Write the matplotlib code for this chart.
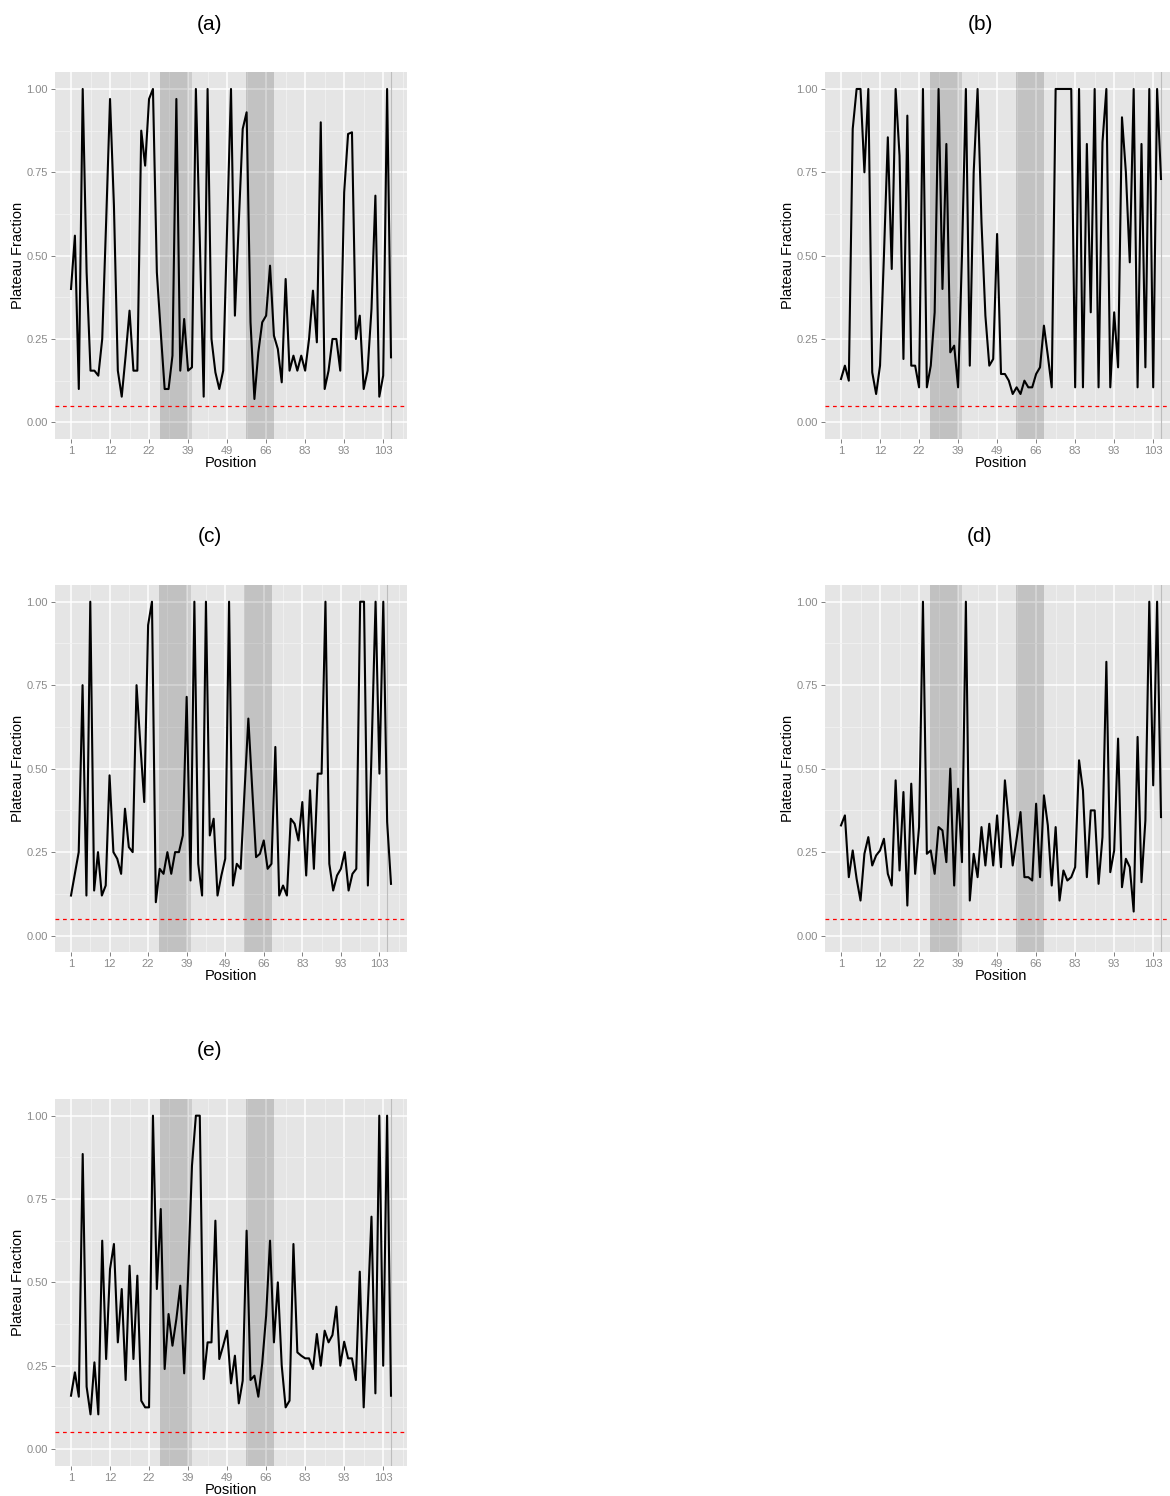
import matplotlib
matplotlib.use("Agg")
import matplotlib.pyplot as plt
import numpy as np

plt.rcParams['font.family'] = ['Liberation Sans', 'DejaVu Sans']

# tick labels on the position axis (every 10th residue)
pos_labels = ["1", "12", "22", "39", "49", "66", "83", "93", "103"]

frac_a = [0.40, 0.56, 0.10, 1.00, 0.45, 0.155, 0.155, 0.14, 0.25, 0.60,
          0.97, 0.65, 0.155, 0.077, 0.20, 0.335, 0.155, 0.155, 0.875, 0.77,
          0.97, 1.00, 0.45, 0.27, 0.10, 0.10, 0.20, 0.97, 0.155, 0.31,
          0.155, 0.165, 1.00, 0.55, 0.077, 1.00, 0.25, 0.15, 0.10, 0.155,
          0.58, 1.00, 0.32, 0.60, 0.88, 0.93, 0.30, 0.07, 0.21, 0.30,
          0.32, 0.47, 0.26, 0.22, 0.12, 0.43, 0.155, 0.20, 0.155, 0.20,
          0.155, 0.25, 0.395, 0.24, 0.90, 0.10, 0.155, 0.25, 0.25, 0.155,
          0.69, 0.865, 0.87, 0.25, 0.32, 0.10, 0.155, 0.34, 0.68, 0.077,
          0.14, 1.00, 0.195]

frac_b = [0.13, 0.17, 0.125, 0.88, 1.00, 1.00, 0.75, 1.00, 0.15, 0.085,
          0.17, 0.50, 0.855, 0.46, 1.00, 0.80, 0.19, 0.92, 0.17, 0.17,
          0.105, 1.00, 0.105, 0.17, 0.33, 1.00, 0.40, 0.835, 0.21, 0.23,
          0.105, 0.50, 1.00, 0.17, 0.75, 1.00, 0.60, 0.32, 0.17, 0.19,
          0.565, 0.145, 0.145, 0.125, 0.085, 0.105, 0.085, 0.125, 0.105, 0.105,
          0.145, 0.165, 0.29, 0.20, 0.105, 1.00, 1.00, 1.00, 1.00, 1.00,
          0.105, 1.00, 0.105, 0.835, 0.33, 1.00, 0.105, 0.84, 1.00, 0.105,
          0.33, 0.165, 0.915, 0.75, 0.48, 1.00, 0.105, 0.835, 0.165, 1.00,
          0.105, 1.00, 0.73]

frac_c = [0.12, 0.185, 0.25, 0.75, 0.12, 1.00, 0.135, 0.25, 0.12, 0.15,
          0.48, 0.25, 0.23, 0.185, 0.38, 0.265, 0.25, 0.75, 0.57, 0.40,
          0.93, 1.00, 0.10, 0.20, 0.185, 0.25, 0.185, 0.25, 0.25, 0.30,
          0.715, 0.165, 1.00, 0.215, 0.12, 1.00, 0.30, 0.35, 0.12, 0.18,
          0.23, 1.00, 0.15, 0.215, 0.20, 0.43, 0.65, 0.44, 0.235, 0.245,
          0.285, 0.20, 0.215, 0.565, 0.12, 0.15, 0.12, 0.35, 0.335, 0.285,
          0.40, 0.18, 0.435, 0.20, 0.485, 0.485, 1.00, 0.215, 0.135, 0.18,
          0.20, 0.25, 0.135, 0.185, 0.20, 1.00, 1.00, 0.15, 0.57, 1.00,
          0.485, 1.00, 0.34, 0.155]

frac_d = [0.33, 0.36, 0.175, 0.255, 0.17, 0.105, 0.245, 0.295, 0.21, 0.24,
          0.255, 0.29, 0.185, 0.15, 0.465, 0.195, 0.43, 0.09, 0.455, 0.185,
          0.325, 1.00, 0.245, 0.255, 0.185, 0.325, 0.315, 0.22, 0.50, 0.15,
          0.44, 0.22, 1.00, 0.105, 0.245, 0.175, 0.325, 0.21, 0.335, 0.21,
          0.36, 0.205, 0.465, 0.34, 0.21, 0.29, 0.37, 0.175, 0.175, 0.165,
          0.395, 0.175, 0.42, 0.33, 0.15, 0.325, 0.105, 0.195, 0.165, 0.175,
          0.205, 0.525, 0.435, 0.175, 0.375, 0.375, 0.155, 0.295, 0.82, 0.19,
          0.255, 0.59, 0.145, 0.23, 0.205, 0.072, 0.595, 0.16, 0.345, 1.00,
          0.45, 1.00, 0.355]

frac_e = [0.16, 0.23, 0.157, 0.885, 0.187, 0.104, 0.26, 0.104, 0.625, 0.27,
          0.54, 0.615, 0.32, 0.48, 0.207, 0.55, 0.27, 0.52, 0.145, 0.125,
          0.125, 1.00, 0.48, 0.72, 0.24, 0.405, 0.31, 0.39, 0.49, 0.227,
          0.52, 0.85, 1.00, 1.00, 0.21, 0.32, 0.32, 0.685, 0.27, 0.31,
          0.355, 0.197, 0.28, 0.137, 0.205, 0.655, 0.207, 0.22, 0.157, 0.257,
          0.40, 0.625, 0.32, 0.50, 0.25, 0.125, 0.145, 0.615, 0.29, 0.28,
          0.272, 0.272, 0.24, 0.345, 0.25, 0.355, 0.32, 0.342, 0.427, 0.25,
          0.322, 0.272, 0.272, 0.207, 0.532, 0.125, 0.41, 0.697, 0.167, 1.00,
          0.25, 1.00, 0.16]

# shaded regions (in index units) and cutoff
regions = [(22.8, 30.0), (22.8, 31.0), (44.85, 52.05)]
region_alpha = [0.06, 0.10, 0.15]
marker_pos = 82
cutoff = 0.05

W, H = 1170, 1496
fig = plt.figure(figsize=(W / 100, H / 100), dpi=100)


def panel(box, values, title, title_x):
    left, top, right, bottom = box
    ax = fig.add_axes([left / W, 1 - bottom / H, (right - left) / W, (bottom - top) / H])
    n = len(values)
    x = np.arange(n)
    ax.set_facecolor("#E5E5E5")
    for s in ax.spines.values():
        s.set_visible(False)

    ax.set_xlim(-0.05 * (n - 1), 1.05 * (n - 1))
    ax.set_ylim(-0.05, 1.05)
    ax.set_xticks(np.arange(len(pos_labels)) * 10)
    ax.set_xticklabels(pos_labels)
    ax.set_xticks(np.arange(5, 90, 10), minor=True)
    ax.set_yticks([0, 0.25, 0.5, 0.75, 1.0])
    ax.set_yticklabels(["0.00", "0.25", "0.50", "0.75", "1.00"])
    ax.set_yticks([0.125, 0.375, 0.625, 0.875], minor=True)
    ax.set_axisbelow(True)
    ax.grid(which="major", color="white", lw=1.1)
    ax.grid(which="minor", color="#F2F2F2", lw=0.6)
    ax.tick_params(which="major", colors="#808080", labelsize=8, length=3, width=0.7, pad=2)
    ax.tick_params(which="minor", length=0)
    ax.tick_params(axis="x", labelcolor="#8A8A8A")
    ax.tick_params(axis="y", labelcolor="#8A8A8A")

    for (x0, x1), a in zip(regions, region_alpha):
        ax.axvspan(x0, x1, color="black", alpha=a, lw=0, zorder=1)
    ax.axvline(marker_pos, color="#BDBDBD", lw=0.8, zorder=1)
    ax.axhline(cutoff, color="red", lw=0.9, ls=(0, (3, 3)), zorder=2)
    ax.plot(x, values, color="black", lw=1.5, zorder=3)

    ax.set_xlabel("Position", fontsize=10.5, labelpad=0)
    ax.set_ylabel("Plateau Fraction", fontsize=10.5, labelpad=1)
    fig.text(title_x / W, 1 - (top - 48) / H, title, fontsize=15, ha="center", va="center")
    return ax


panel((55, 72.3, 407, 439), frac_a, "(a)", 210)
panel((825, 72.3, 1177, 439), frac_b, "(b)", 980)
panel((55, 585, 407, 952.3), frac_c, "(c)", 210)
panel((825, 585, 1177, 952.3), frac_d, "(d)", 980)
panel((55, 1099, 407, 1465.7), frac_e, "(e)", 210)

fig.savefig("out.png", dpi=100, facecolor="white")
